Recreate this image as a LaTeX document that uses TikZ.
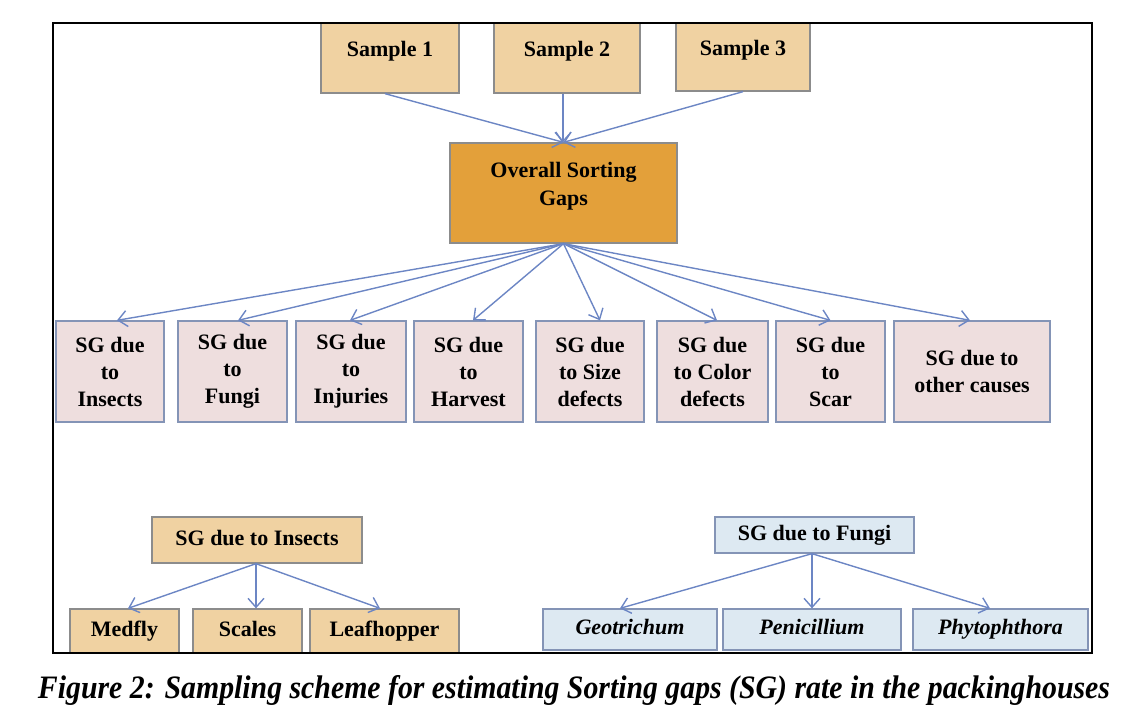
\documentclass[tikz,border=0pt]{standalone}
\usepackage{fontspec}
\setmainfont{Liberation Serif}
\usetikzlibrary{arrows.meta}
\definecolor{tanfill}{HTML}{F0D2A2}
\definecolor{orangefill}{HTML}{E3A03A}
\definecolor{pinkfill}{HTML}{EEDEDE}
\definecolor{bluefill}{HTML}{DDE9F2}
\definecolor{grayline}{HTML}{8C8C8C}
\definecolor{blueline}{HTML}{8494B6}
\definecolor{arrowc}{HTML}{6C86C4}
\tikzset{
  box/.style={draw, line width=1.3pt, inner sep=0pt, align=center, anchor=center,
    font=\bfseries\fontsize{22}{27}\selectfont},
  oneline/.style={text height=15pt, text depth=5pt},
  tanbox/.style={box, fill=tanfill, draw=grayline},
  pinkbox/.style={box, fill=pinkfill, draw=blueline, minimum height=101pt},
  bluebox/.style={box, fill=bluefill, draw=blueline},
  txt/.style={inner sep=0pt, align=center, font=\bfseries\fontsize{22}{28}\selectfont},
  arr/.style={draw=arrowc, line width=1.4pt, -{Straight Barb[length=9pt,width=16pt]}}
}
\begin{document}
\begin{tikzpicture}[x=1pt,y=-1pt]
\useasboundingbox (0,0) rectangle (1132,726);

% top samples
\node[tanbox, minimum width=138pt, minimum height=70pt] (s1) at (390,58) {};
\node[txt] (s1t) at (390,51) {Sample 1};
\node[tanbox, minimum width=146pt, minimum height=70pt] (s2) at (567,58) {};
\node[txt] (s2t) at (567,51) {Sample 2};
\node[tanbox, minimum width=134pt, minimum height=68pt] (s3) at (743,57) {};
\node[txt] (s3t) at (743,50) {Sample 3};

% overall
\node[box, fill=orangefill, draw=grayline, minimum width=227pt, minimum height=100pt] (ov) at (563.5,193) {};
\node[txt] (ovt) at (563.5,186) {Overall Sorting\\Gaps};

\draw[arr] ([xshift=-5pt]s1.south) -- (ov.north);
\draw[arr] ([xshift=-4pt]s2.south) -- ([xshift=-0.5pt]ov.north);
\draw[arr] (s3.south) -- (ov.north);

% middle row
\node[pinkbox, minimum width=108pt] (m1) at (110,371.5) {SG due\\to\\Insects};
\node[pinkbox, minimum width=109pt] (m2) at (232.5,371.5) {SG due\\to\\Fungi};
\node[pinkbox, minimum width=110pt] (m3) at (351,371.5) {SG due\\to\\Injuries};
\node[pinkbox, minimum width=109pt] (m4) at (468.5,371.5) {SG due\\to\\Harvest};
\node[pinkbox, minimum width=108pt] (m5) at (590,371.5) {SG due\\to Size\\defects};
\node[pinkbox, minimum width=111pt] (m6) at (712.5,371.5) {SG due\\to Color\\defects};
\node[pinkbox, minimum width=109pt] (m7) at (830.5,371.5) {SG due\\to\\Scar};
\node[pinkbox, minimum width=156pt] (m8) at (972,371.5) {SG due to\\other causes};

\draw[arr] (ov.south) -- ([xshift=7pt]m1.north);
\draw[arr] (ov.south) -- ([xshift=5.5pt]m2.north);
\draw[arr] (ov.south) -- ([xshift=-1pt]m3.north);
\draw[arr] (ov.south) -- ([xshift=4.5pt]m4.north);
\draw[arr] (ov.south) -- ([xshift=10pt]m5.north);
\draw[arr] (ov.south) -- ([xshift=4.5pt]m6.north);
\draw[arr] (ov.south) -- (m7.north);
\draw[arr] (ov.south) -- ([xshift=-2pt]m8.north);

% bottom left: insects
\node[tanbox, oneline, minimum width=210pt, minimum height=46pt] (bi) at (257,540) {SG due to Insects};
\node[tanbox, oneline, minimum width=109pt, minimum height=44pt] (i1) at (124.5,631) {Medfly};
\node[tanbox, oneline, minimum width=109pt, minimum height=44pt] (i2) at (247.5,631) {Scales};
\node[tanbox, oneline, minimum width=149pt, minimum height=44pt] (i3) at (384.5,631) {Leafhopper};
\draw[arr] ([xshift=-1pt]bi.south) -- ([xshift=3.5pt]i1.north);
\draw[arr] ([xshift=-1pt]bi.south) -- ([xshift=8.5pt]i2.north);
\draw[arr] ([xshift=-1pt]bi.south) -- ([xshift=-4.5pt]i3.north);

% bottom right: fungi
\node[bluebox, oneline, minimum width=199pt, minimum height=36pt] (bf) at (814.5,535) {SG due to Fungi};
\node[bluebox, oneline, minimum width=174pt, minimum height=41pt] (f1) at (630,629.5) {\itshape Geotrichum};
\node[bluebox, oneline, minimum width=178pt, minimum height=41pt] (f2) at (812,629.5) {\itshape Penicillium};
\node[bluebox, oneline, minimum width=175pt, minimum height=41pt] (f3) at (1000.5,629.5) {\itshape Phytophthora};
\draw[arr] ([xshift=-2.5pt]bf.south) -- ([xshift=-10pt]f1.north);
\draw[arr] ([xshift=-2.5pt]bf.south) -- (f2.north);
\draw[arr] ([xshift=-2.5pt]bf.south) -- ([xshift=-10.5pt]f3.north);

% frame
\draw[line width=2.5pt] (53,23) rectangle (1092,653);

% caption
\node[inner sep=0pt] (cap) at (574,690) {\resizebox*{1072pt}{30pt}{\bfseries\itshape Figure 2: Sampling scheme for estimating Sorting gaps (SG) rate in the packinghouses}};
\end{tikzpicture}
\end{document}
